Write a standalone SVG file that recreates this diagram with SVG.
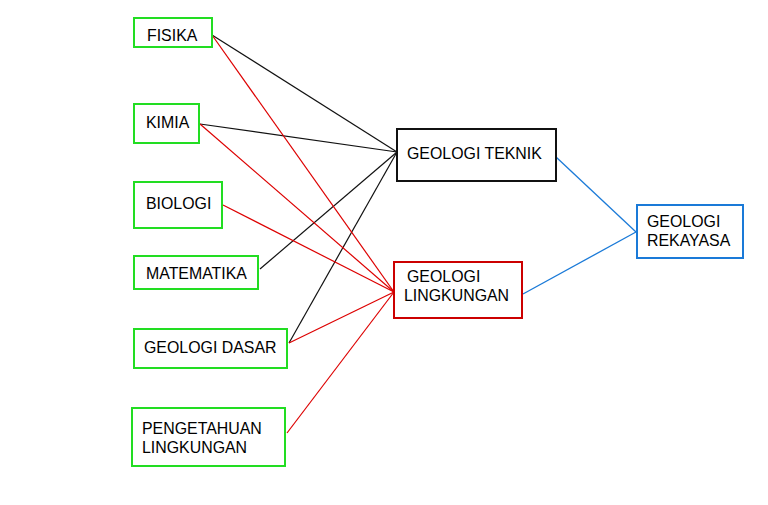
<svg xmlns="http://www.w3.org/2000/svg" width="768" height="505" viewBox="0 0 768 505">
<style>
.src rect{fill:#fff;stroke:#22dd22;stroke-width:2}
text{font-family:"Liberation Sans",Arial,sans-serif;font-size:15.9px;fill:#000}
.k{stroke:#111;stroke-width:1.2;fill:none}
.r{stroke:#dd0000;stroke-width:1.2;fill:none}
.b{stroke:#1a7ad8;stroke-width:1.3;fill:none}
</style>
<rect width="768" height="505" fill="#fff"/>
<g id="connectors">
<line class="k" x1="212" y1="35" x2="397" y2="152"/>
<line class="k" x1="200" y1="124" x2="397" y2="152" stroke-width="2"/>
<line class="k" x1="260" y1="269" x2="397" y2="152"/>
<line class="k" x1="289" y1="343" x2="397" y2="152"/>
<line class="r" x1="212" y1="35" x2="394" y2="292"/>
<line class="r" x1="200" y1="124" x2="394" y2="292"/>
<line class="r" x1="223" y1="205" x2="394" y2="292" stroke-width="1.8"/>
<line class="r" x1="289" y1="343" x2="394" y2="292"/>
<line class="r" x1="287" y1="433" x2="394" y2="292"/>
<line class="b" x1="556" y1="157" x2="636" y2="232"/>
<line class="b" x1="523" y1="294" x2="636" y2="232"/>
</g>
<g id="fisika" class="src"><rect x="134" y="18" width="78" height="29"/><text x="147" y="41">FISIKA</text></g>
<g id="kimia" class="src"><rect x="134" y="104" width="65" height="39"/><text x="146" y="128">KIMIA</text></g>
<g id="biologi" class="src"><rect x="134" y="182" width="88" height="46"/><text x="146" y="209">BIOLOGI</text></g>
<g id="matematika" class="src"><rect x="134" y="256" width="124" height="33"/><text x="146" y="279">MATEMATIKA</text></g>
<g id="geologi-dasar" class="src"><rect x="134" y="329" width="153" height="39"/><text x="144" y="353">GEOLOGI DASAR</text></g>
<g id="pengetahuan-lingkungan" class="src"><rect x="132" y="408" width="153" height="58"/><text x="142" y="434">PENGETAHUAN</text><text x="142" y="453">LINGKUNGAN</text></g>
<g id="geologi-teknik"><rect x="397" y="129" width="159" height="52" fill="#fff" stroke="#111" stroke-width="2"/><text x="407" y="159">GEOLOGI TEKNIK</text></g>
<g id="geologi-lingkungan"><rect x="394" y="262" width="128" height="56" fill="#fff" stroke="#cc0000" stroke-width="2"/><text x="407" y="282">GEOLOGI</text><text x="404" y="301">LINGKUNGAN</text></g>
<g id="geologi-rekayasa"><rect x="637" y="205" width="106" height="53" fill="#fff" stroke="#1a7ad8" stroke-width="2"/><text x="647" y="227">GEOLOGI</text><text x="647" y="246">REKAYASA</text></g>
</svg>
